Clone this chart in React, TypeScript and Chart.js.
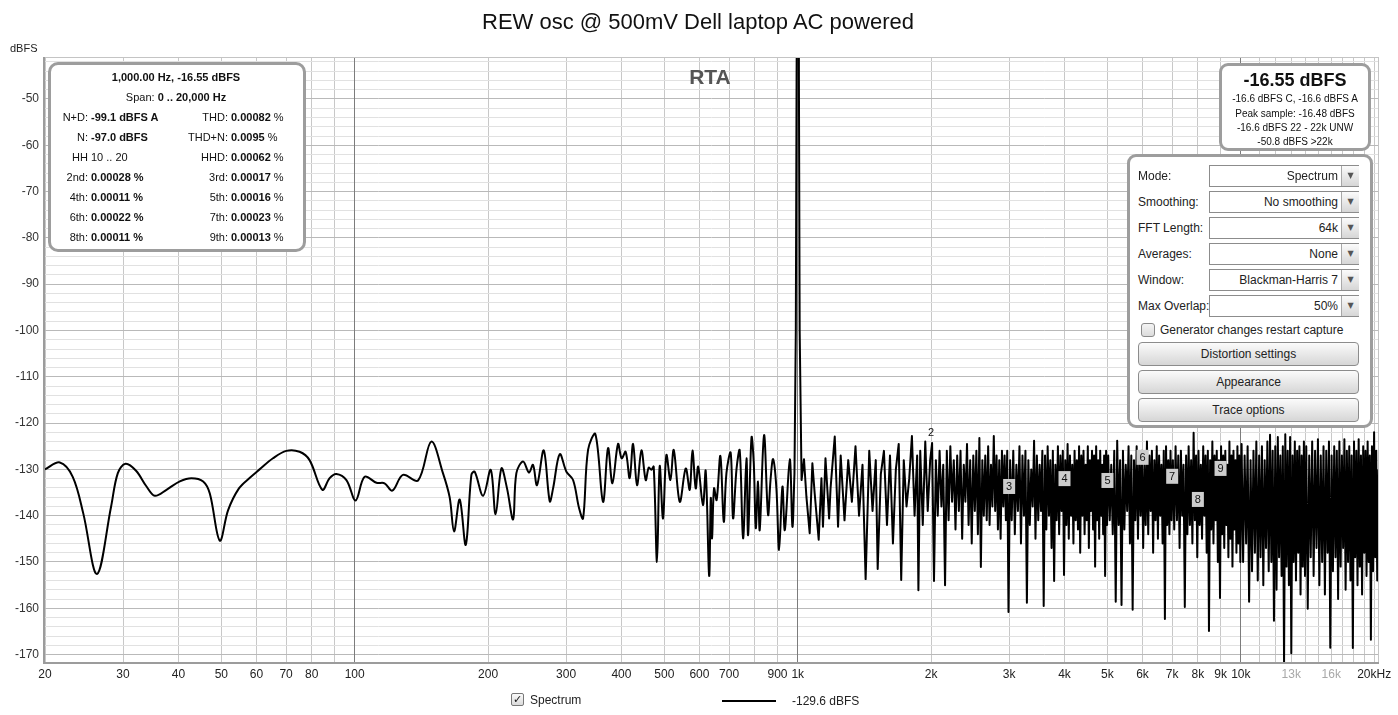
import React, { useEffect, useRef } from "react";
import { Chart, registerables } from "chart.js";

Chart.register(...registerables);

const FONT = "'Liberation Sans', Arial, Helvetica, sans-serif";

// ---- Smooth low-frequency part of the spectrum (Hz, dBFS) ----
const smoothFreq = [
  20, 21.6, 23.1, 24.4, 26.2, 28.2, 29.2, 30.4, 32.1, 33.9,
  35.4, 37.6, 40.3, 42.8, 45.5, 47.1, 49.6, 51.8, 54.8, 58,
  61, 65.4, 70.1, 75.1, 79.1, 84.5, 87.8, 90.9, 95.8, 100.5,
  105.3, 112, 116.8, 121.6, 128.5, 139, 148.9, 158.2, 163.8, 167.6,
  172.6, 178.1, 183.4, 186.6, 194.9, 202.8, 208, 214.4, 220.7, 227.8,
  231.7, 239.9, 247.4, 252.6, 257.9, 267.1, 275.6, 280.4, 290.3, 300.5,
  311.1, 321, 327.7, 336.3, 349.4, 363.5, 373.1, 381.7, 393, 400.4,
  408.9, 417.5, 424.9, 433.8, 443.8, 453.8, 461, 467.4, 473, 481.2,
  488, 496.5, 505.3, 516, 524.9, 541.6, 558.7, 570.4, 578.5, 588.5,
  596, 611, 619.8, 631, 636.4, 640.5, 647.2, 656, 668.9, 680.8,
  690.3, 705.6, 714.5, 727.3, 739.6, 752.6, 766, 772.5, 786.4, 795.7,
  804, 813.6, 820.6, 839.4, 857, 868, 879.7, 895, 907.5, 923.6,
  935, 959.4, 972.7, 983,
];
const smoothDb = [
  -130.0, -128.5, -131.6, -139.5, -152.6, -138.0, -130.8, -128.8, -130.3, -133.7,
  -135.7, -134.4, -132.6, -131.9, -132.6, -135.2, -145.4, -138.8, -134.1, -131.8,
  -130.0, -127.6, -126.0, -126.2, -128.0, -134.4, -131.9, -131.0, -132.3, -136.7,
  -131.6, -132.9, -133.0, -134.6, -131.2, -132.4, -124.0, -130.8, -136.0, -143.4,
  -136.5, -146.3, -131.2, -130.5, -135.7, -130.1, -139.7, -129.8, -134.1, -140.8,
  -130.8, -128.3, -130.7, -129.0, -133.4, -125.9, -136.9, -134.1, -126.7, -130.5,
  -132.3, -138.4, -140.6, -125.8, -122.4, -137.0, -125.4, -133.0, -124.5, -127.6,
  -126.2, -131.9, -124.5, -133.4, -125.9, -132.3, -129.6, -130.1, -129.4, -150.0,
  -129.3, -140.6, -126.9, -132.3, -125.8, -137.0, -129.8, -134.4, -125.9, -134.1,
  -129.4, -137.7, -130.3, -153.0, -136.2, -144.9, -134.1, -136.6, -127.1, -141.3,
  -130.8, -126.4, -140.6, -130.0, -125.9, -144.9, -127.6, -144.2, -123.1, -128.7,
  -142.7, -132.6, -143.1, -122.6, -139.8, -132.3, -127.8, -134.1, -147.4, -133.7,
  -143.1, -127.8, -142.4, -131.0,
];

// ---- 1 kHz test tone ----
const toneFreq = [983, 990, 994, 997, 1000, 1003, 1006, 1010];
const toneDb = [-131.0, -100, -45, -20, -16.55, -20, -45, -100];

// ---- Noise floor, [Hz, dBFS] ----
const noise1k: [number, number][] = [
  [1020, -132.3], [1033, -127.8], [1046, -135.9], [1064, -143.8], [1079, -128.7], [1092, -135.2],
  [1115, -145.2], [1131, -131.9], [1140, -142.4], [1155, -127.6], [1177, -140.6], [1186, -134.0],
  [1212, -122.9], [1233, -142.4], [1250, -127.0], [1275, -141.0], [1300, -128.0], [1325, -137.0],
  [1350, -125.0], [1375, -140.0], [1400, -129.0], [1423, -153.7], [1450, -126.0], [1475, -139.0],
  [1500, -128.0], [1515, -151.5], [1540, -131.0], [1565, -126.0], [1590, -142.0], [1615, -127.0],
  [1640, -146.0], [1665, -130.0], [1690, -124.5], [1712, -153.9], [1735, -128.0], [1760, -138.0],
  [1785, -132.0], [1810, -122.8], [1835, -140.0], [1860, -127.0], [1872, -156.1], [1890, -126.0],
  [1915, -142.0], [1940, -124.0], [1965, -139.0], [1990, -128.0],
];
const noise2k: [number, number][] = [
  [2010, -124.3], [2030, -154.1], [2050, -128], [2070, -140], [2090, -126], [2110, -138],
  [2130, -129], [2150, -155.0], [2170, -126], [2190, -141], [2210, -125], [2230, -137],
  [2250, -128], [2270, -143], [2290, -127], [2310, -139], [2330, -126], [2350, -145],
  [2370, -129], [2390, -137], [2410, -124.5], [2430, -142], [2450, -128], [2470, -146],
  [2490, -127], [2510, -139], [2530, -126], [2550, -144], [2570, -123.2], [2590, -151.1],
  [2610, -128], [2630, -140], [2650, -127], [2670, -141], [2690, -125], [2710, -142],
  [2730, -129], [2750, -138], [2770, -122.8], [2790, -139], [2810, -127], [2830, -143],
  [2850, -128], [2870, -145], [2890, -126], [2910, -138], [2930, -127], [2950, -141],
  [2970, -126], [2990, -160.8],
];
const noise3k: [number, number][] = [
  [3015, -128], [3040, -141], [3065, -126], [3090, -144], [3115, -129], [3140, -139],
  [3165, -125], [3190, -146], [3215, -127], [3240, -140], [3265, -126], [3290, -158.8],
  [3315, -128], [3340, -142], [3365, -130], [3390, -138], [3415, -123.8], [3440, -145],
  [3465, -127], [3490, -141], [3515, -129], [3540, -139], [3565, -126], [3590, -159.5],
  [3615, -127], [3640, -143], [3665, -125], [3690, -140], [3715, -128], [3740, -147],
  [3765, -126], [3790, -154.1], [3815, -129], [3840, -141], [3865, -125], [3890, -144],
  [3915, -127], [3940, -139], [3965, -126], [3990, -152.8], [4015, -128], [4040, -142],
  [4065, -124.5], [4090, -145], [4115, -127], [4140, -140], [4165, -129], [4190, -146],
  [4215, -126], [4240, -141], [4265, -128], [4290, -143], [4315, -125], [4340, -148],
  [4365, -127], [4390, -140], [4415, -126], [4440, -144], [4465, -129], [4490, -141],
  [4515, -125], [4540, -147], [4565, -128], [4590, -139], [4615, -126], [4640, -143],
  [4665, -127], [4690, -151], [4715, -125], [4740, -141], [4765, -128], [4790, -145],
  [4815, -126], [4840, -140], [4865, -129], [4890, -144], [4915, -127], [4940, -153],
  [4965, -126], [4990, -142],
];
const noise5k: [number, number][] = [
  [5020, -127], [5060, -141], [5100, -129], [5140, -144], [5180, -126], [5220, -158.6],
  [5260, -123.8], [5300, -142], [5340, -128], [5380, -159.3], [5420, -126], [5460, -143],
  [5500, -129], [5540, -139], [5580, -125], [5620, -146], [5660, -127], [5700, -160.3],
  [5740, -128], [5780, -141], [5820, -125], [5860, -145], [5900, -127], [5940, -140],
  [5980, -126], [6020, -147], [6060, -129], [6100, -142], [6140, -124], [6180, -144],
  [6220, -127], [6260, -139], [6300, -126], [6340, -148], [6380, -128], [6420, -141],
  [6460, -125], [6500, -145], [6540, -127], [6580, -140], [6620, -129], [6660, -146],
  [6700, -126], [6740, -162.3], [6780, -125], [6820, -142], [6860, -128], [6900, -144],
  [6940, -126], [6980, -141],
];
const noise7k: [number, number][] = [
  [7025, -128], [7075, -143], [7125, -125], [7175, -141], [7225, -127], [7275, -147],
  [7325, -126], [7375, -140], [7425, -129], [7475, -159.7], [7525, -127], [7575, -144],
  [7625, -125], [7675, -142], [7725, -128], [7775, -146], [7825, -122.1], [7875, -141],
  [7925, -127], [7975, -149], [8025, -126], [8075, -142], [8125, -129], [8175, -145],
  [8225, -125], [8275, -140], [8325, -127], [8375, -148], [8425, -126], [8475, -164.9],
  [8525, -128], [8575, -143], [8625, -124], [8675, -146], [8725, -127], [8775, -141],
  [8825, -126], [8875, -150], [8925, -128], [8975, -157.8], [9025, -125], [9075, -144],
  [9125, -127], [9175, -147], [9225, -126], [9275, -142], [9325, -129], [9375, -149],
  [9425, -124], [9475, -145], [9525, -127], [9575, -151], [9625, -126], [9675, -143],
  [9725, -128], [9775, -148], [9825, -125], [9875, -146], [9925, -127], [9975, -150],
];
const noise10k: [number, number][] = [
  [10040, -124.5], [10120, -150], [10200, -127], [10280, -146], [10360, -125], [10440, -158.6],
  [10520, -128], [10600, -152], [10680, -126], [10760, -148], [10840, -124], [10920, -154],
  [11000, -127], [11080, -149], [11160, -125], [11240, -155], [11320, -128], [11400, -147],
  [11480, -124], [11560, -152], [11640, -122.5], [11720, -150], [11800, -126], [11880, -162.7],
  [11960, -125], [12040, -156], [12120, -123], [12200, -149], [12280, -127], [12360, -153],
  [12440, -125], [12520, -172], [12600, -122.4], [12680, -151], [12760, -126], [12840, -155],
  [12920, -123], [13000, -169.7], [13080, -127], [13160, -150], [13240, -124], [13320, -154],
  [13400, -126], [13480, -148], [13560, -125], [13640, -157], [13720, -127], [13800, -151],
  [13880, -124], [13960, -153],
];
const noise14k: [number, number][] = [
  [14050, -125], [14160, -160.1], [14270, -127], [14380, -149], [14490, -124], [14600, -153],
  [14710, -126], [14820, -147], [14930, -123.5], [15040, -155], [15150, -127], [15260, -150],
  [15370, -125], [15480, -157], [15590, -126], [15700, -148], [15810, -124], [15920, -168.5],
  [16030, -127], [16140, -152], [16250, -125], [16360, -149], [16470, -126], [16580, -158],
  [16690, -124], [16800, -151], [16910, -127], [17020, -147], [17130, -123.5], [17240, -156],
  [17350, -126], [17460, -150], [17570, -125], [17680, -154], [17790, -127], [17900, -168.6],
  [18010, -124], [18120, -149], [18230, -126], [18340, -155], [18450, -123.5], [18560, -151],
  [18670, -127], [18780, -157], [18890, -125], [19000, -148], [19110, -126], [19220, -153],
  [19330, -124], [19440, -150], [19550, -127], [19660, -166.8], [19770, -125], [19880, -152],
  [19990, -122], [20100, -149], [20210, -126], [20320, -154], [20450, -130],
];

// ---- Harmonic markers ----
const harmonicLabels = ["2", "3", "4", "5", "6", "7", "8", "9"];
const harmonicFreq = [2000, 3000, 4000, 5000, 6000, 7000, 8000, 9000];
const harmonicLabelDb = [-122.1, -133.8, -132.1, -132.5, -127.5, -131.6, -136.6, -129.9];

// ---- Axes ----
const xTickValues = [
  20, 30, 40, 50, 60, 70, 80, 90, 100, 200, 300, 400, 500, 600, 700, 800, 900,
  1000, 2000, 3000, 4000, 5000, 6000, 7000, 8000, 9000, 10000, 11000, 12000,
  13000, 14000, 15000, 16000, 17000, 18000, 19000, 20000,
];
const xTickLabels: Record<number, string> = {
  20: "20", 30: "30", 40: "40", 50: "50", 60: "60", 70: "70", 80: "80", 100: "100",
  200: "200", 300: "300", 400: "400", 500: "500", 600: "600", 700: "700", 900: "900",
  1000: "1k", 2000: "2k", 3000: "3k", 4000: "4k", 5000: "5k", 6000: "6k", 7000: "7k",
  8000: "8k", 9000: "9k", 10000: "10k", 13000: "13k", 16000: "16k", 20000: "20kHz",
};
const xGrayLabels = [13000, 16000];
const xMajorLines = [100, 1000, 10000];
const X_MIN = 20;
const X_MAX = 20400;
const Y_MIN = -171.6;
const Y_MAX = -41.15;

const framePlugin = {
  id: "frame",
  beforeDatasetsDraw(chart: any) {
    const { ctx, chartArea: a } = chart;
    const xs = chart.scales.x;
    ctx.save();
    ctx.fillStyle = "#7c7c7c";
    xMajorLines.forEach((v) => {
      const px = Math.round(xs.getPixelForValue(v) - 0.5);
      ctx.fillRect(px, a.top, 1, a.bottom - a.top);
    });
    ctx.restore();
  },
  afterDraw(chart: any) {
    const { ctx, chartArea: a } = chart;
    ctx.save();
    ctx.fillStyle = "#c4c4c4";
    ctx.fillRect(a.left, a.top - 1, a.right - a.left + 1, 1);
    ctx.fillRect(a.right, a.top - 1, 1, a.bottom - a.top + 1);
    ctx.fillStyle = "#9c9c9c";
    ctx.fillRect(a.left - 2, a.top - 1, 2, a.bottom - a.top + 3);
    ctx.fillRect(a.left - 2, a.bottom, a.right - a.left + 3, 2);
    ctx.restore();
  },
};

const harmonicPlugin = {
  id: "harmonics",
  afterDatasetsDraw(chart: any) {
    const { ctx } = chart;
    const xs = chart.scales.x;
    const ys = chart.scales.y;
    ctx.save();
    ctx.font = `11px ${FONT}`;
    ctx.textAlign = "center";
    ctx.textBaseline = "middle";
    harmonicLabels.forEach((lab, i) => {
      const px = xs.getPixelForValue(harmonicFreq[i]);
      const py = ys.getPixelForValue(harmonicLabelDb[i]);
      if (i > 0) {
        ctx.fillStyle = "#cdcdcd";
        ctx.fillRect(px - 6, py - 8, 12, 15);
      }
      ctx.fillStyle = "#111";
      ctx.fillText(lab, px, py);
    });
    ctx.restore();
  },
};

function T(props: {
  x: number;
  y: number;
  align?: "left" | "center" | "right";
  size?: number;
  bold?: boolean;
  color?: string;
  children: React.ReactNode;
}) {
  const { x, y, align = "left", size = 12, bold = false, color = "#1a1a1a" } = props;
  const lh = size + 6;
  const style: React.CSSProperties = {
    position: "absolute",
    top: y - lh / 2,
    height: lh,
    lineHeight: `${lh}px`,
    fontFamily: FONT,
    fontSize: size,
    fontWeight: bold ? "bold" : "normal",
    color,
    whiteSpace: "nowrap",
  };
  if (align === "left") {
    style.left = x;
  } else if (align === "center") {
    style.left = x - 300;
    style.width = 600;
    style.textAlign = "center";
  } else {
    style.left = x - 600;
    style.width = 600;
    style.textAlign = "right";
  }
  return <div style={style}>{props.children}</div>;
}

const infoRows: [string, string, string, string][] = [
  ["N+D:", "-99.1 dBFS A", "THD:", "0.00082 %"],
  ["N:", "-97.0 dBFS", "THD+N:", "0.0095 %"],
  ["HH", "10 .. 20", "HHD:", "0.00062 %"],
  ["2nd:", "0.00028 %", "3rd:", "0.00017 %"],
  ["4th:", "0.00011 %", "5th:", "0.00016 %"],
  ["6th:", "0.00022 %", "7th:", "0.00023 %"],
  ["8th:", "0.00011 %", "9th:", "0.00013 %"],
];

const panelRows: [string, string][] = [
  ["Mode:", "Spectrum"],
  ["Smoothing:", "No  smoothing"],
  ["FFT Length:", "64k"],
  ["Averages:", "None"],
  ["Window:", "Blackman-Harris 7"],
  ["Max Overlap:", "50%"],
];
const panelButtons = ["Distortion settings", "Appearance", "Trace options"];

export default function App() {
  const canvasRef = useRef<HTMLCanvasElement | null>(null);

  useEffect(() => {
    const canvas = canvasRef.current;
    if (!canvas) return;
    const smoothPts = smoothFreq.map((f, i) => ({ x: f, y: smoothDb[i] }));
    const tonePts = toneFreq.map((f, i) => ({ x: f, y: toneDb[i] }));
    const noisePts = [...noise1k, ...noise2k, ...noise3k, ...noise5k, ...noise7k, ...noise10k, ...noise14k].map(
      ([f, d]) => ({ x: f, y: d })
    );

    const chart = new Chart(canvas, {
      type: "line",
      data: {
        datasets: [
          {
            data: smoothPts,
            borderColor: "#000",
            borderWidth: 2,
            pointRadius: 0,
            tension: 0.35,
            borderJoinStyle: "round",
          },
          {
            data: [...tonePts, ...noisePts],
            borderColor: "#000",
            borderWidth: 2,
            pointRadius: 0,
            tension: 0,
            borderJoinStyle: "round",
          },
        ],
      },
      options: {
        animation: false,
        responsive: false,
        devicePixelRatio: 1,
        layout: { padding: { left: 0, top: 58, right: 20, bottom: 30 } },
        plugins: {
          legend: { display: false },
          tooltip: { enabled: false },
          title: { display: false },
        },
        scales: {
          x: {
            type: "logarithmic",
            min: X_MIN,
            max: X_MAX,
            afterBuildTicks: (scale: any) => {
              scale.ticks = xTickValues.map((v) => ({ value: v }));
            },
            afterFit: (scale: any) => {
              scale.height = 23;
            },
            border: { display: false },
            grid: {
              drawTicks: false,
              lineWidth: 1,
              color: "#c8c8c8",
            },
            ticks: {
              autoSkip: false,
              maxRotation: 0,
              minRotation: 0,
              padding: 5,
              font: { family: FONT, size: 12 },
              color: (ctx: any) =>
                xGrayLabels.includes(ctx.tick?.value) ? "#a8a8a8" : "#222",
              callback: (v: any) => xTickLabels[Number(v)] ?? "",
            },
          },
          y: {
            type: "linear",
            min: Y_MIN,
            max: Y_MAX,
            afterBuildTicks: (scale: any) => {
              const t: { value: number }[] = [];
              for (let v = -170; v <= -42; v += 2) t.push({ value: v });
              scale.ticks = t;
            },
            afterFit: (scale: any) => {
              scale.width = 45;
            },
            border: { display: false },
            grid: {
              drawTicks: false,
              lineWidth: 1,
              color: (ctx: any) => (ctx.tick && ctx.tick.value % 10 === 0 ? "#b9b9b9" : "#e1e1e1"),
            },
            ticks: {
              autoSkip: false,
              padding: 6,
              font: { family: FONT, size: 12 },
              color: "#333",
              callback: (v: any) => (Number(v) % 10 === 0 ? String(v) : ""),
            },
          },
        },
      } as any,
      plugins: [framePlugin, harmonicPlugin],
    });
    return () => chart.destroy();
  }, []);

  const boxBorder = "3px solid #9d9d9d";
  const btnBg = "linear-gradient(#fbfbfb, #d6d6d6)";

  return (
    <div
      style={{
        position: "fixed",
        left: 0,
        top: 0,
        width: 1398,
        height: 715,
        background: "#fff",
        overflow: "hidden",
      }}
    >
      <canvas ref={canvasRef} width={1398} height={715} style={{ position: "absolute", left: 0, top: 0, width: 1398, height: 715 }} />

      {/* Title and axis caption */}
      <T x={698} y={22} align="center" size={22} color="#111">REW osc @ 500mV Dell laptop AC powered</T>
      <T x={10} y={48} size={11} color="#222">dBFS</T>
      <T x={710} y={76} align="center" size={21} bold color="#555">RTA</T>

      {/* Left info box */}
      <div
        style={{
          position: "absolute",
          left: 48,
          top: 62,
          width: 252,
          height: 184,
          border: boxBorder,
          borderRadius: 10,
          background: "#fff",
        }}
      />
      <T x={176} y={77} align="center" size={11} bold color="#111">1,000.00 Hz, -16.55 dBFS</T>
      <T x={176} y={97} align="center" size={11} color="#111">
        Span: <b>0 .. 20,000 Hz</b>
      </T>
      {infoRows.map((r, i) => {
        const y = 117 + i * 20;
        return (
          <React.Fragment key={i}>
            <T x={88} y={y} align="right" size={11} color="#111">{r[0]}</T>
            <T x={91} y={y} size={11} bold={r[0] !== "HH"} color="#111">{r[1]}</T>
            <T x={228} y={y} align="right" size={11} color="#111">{r[2]}</T>
            <T x={231} y={y} size={11} color="#111">
              <b>{r[3].replace(" %", "")}</b> %
            </T>
          </React.Fragment>
        );
      })}

      {/* Top-right level box */}
      <div
        style={{
          position: "absolute",
          left: 1219,
          top: 63,
          width: 146,
          height: 82,
          border: boxBorder,
          borderRadius: 9,
          background: "#fff",
        }}
      />
      <T x={1295} y={80} align="center" size={18} bold color="#111">-16.55 dBFS</T>
      <T x={1295} y={99} align="center" size={10} color="#111">-16.6 dBFS C, -16.6 dBFS A</T>
      <T x={1295} y={114} align="center" size={10} color="#111">Peak sample: -16.48 dBFS</T>
      <T x={1295} y={128} align="center" size={10} color="#111">-16.6 dBFS 22 - 22k UNW</T>
      <T x={1295} y={142} align="center" size={10} color="#111">-50.8 dBFS &gt;22k</T>

      {/* Control panel */}
      <div
        style={{
          position: "absolute",
          left: 1127,
          top: 154,
          width: 240,
          height: 268,
          border: boxBorder,
          borderRadius: 9,
          background: "#fff",
        }}
      />
      {panelRows.map((r, i) => {
        const cy = 176 + i * 26;
        return (
          <React.Fragment key={r[0]}>
            <T x={1138} y={cy} size={12} color="#222">{r[0]}</T>
            <div
              style={{
                position: "absolute",
                left: 1209,
                top: cy - 11,
                width: 148,
                height: 20,
                border: "1px solid #8c8c8c",
                background: "#fff",
              }}
            />
            <T x={1338} y={cy} align="right" size={12} color="#222">{r[1]}</T>
            <div
              style={{
                position: "absolute",
                left: 1341,
                top: cy - 10,
                width: 17,
                height: 20,
                borderLeft: "1px solid #a8a8a8",
                background: btnBg,
                color: "#555",
                fontSize: 8,
                lineHeight: "20px",
                textAlign: "center",
                fontFamily: "DejaVu Sans, sans-serif",
              }}
            >
              ▼
            </div>
          </React.Fragment>
        );
      })}
      <div
        style={{
          position: "absolute",
          left: 1141,
          top: 323,
          width: 12,
          height: 12,
          border: "1px solid #8a8a8a",
          borderRadius: 3,
          background: "linear-gradient(#f4f4f4, #dcdcdc)",
        }}
      />
      <T x={1160} y={330} size={12} color="#222">Generator changes restart capture</T>
      {panelButtons.map((b, i) => (
        <div
          key={b}
          style={{
            position: "absolute",
            left: 1138,
            top: 342 + i * 28,
            width: 219,
            height: 22,
            border: "1px solid #8c8c8c",
            borderRadius: 4,
            background: btnBg,
            fontFamily: FONT,
            fontSize: 12,
            lineHeight: "22px",
            textAlign: "center",
            color: "#222",
          }}
        >
          {b}
        </div>
      ))}

      {/* Bottom legend */}
      <div
        style={{
          position: "absolute",
          left: 511,
          top: 693,
          width: 11,
          height: 11,
          border: "1px solid #777",
          borderRadius: 2,
          background: "linear-gradient(#fafafa, #dadada)",
          fontFamily: "DejaVu Sans, sans-serif",
          fontSize: 11,
          lineHeight: "11px",
          textAlign: "center",
          color: "#111",
          fontWeight: "bold",
        }}
      >
        ✓
      </div>
      <T x={530} y={700} size={12} color="#222">Spectrum</T>
      <div style={{ position: "absolute", left: 722, top: 700, width: 54, height: 2, background: "#000" }} />
      <T x={792} y={701} size={12} color="#222">-129.6 dBFS</T>
    </div>
  );
}
